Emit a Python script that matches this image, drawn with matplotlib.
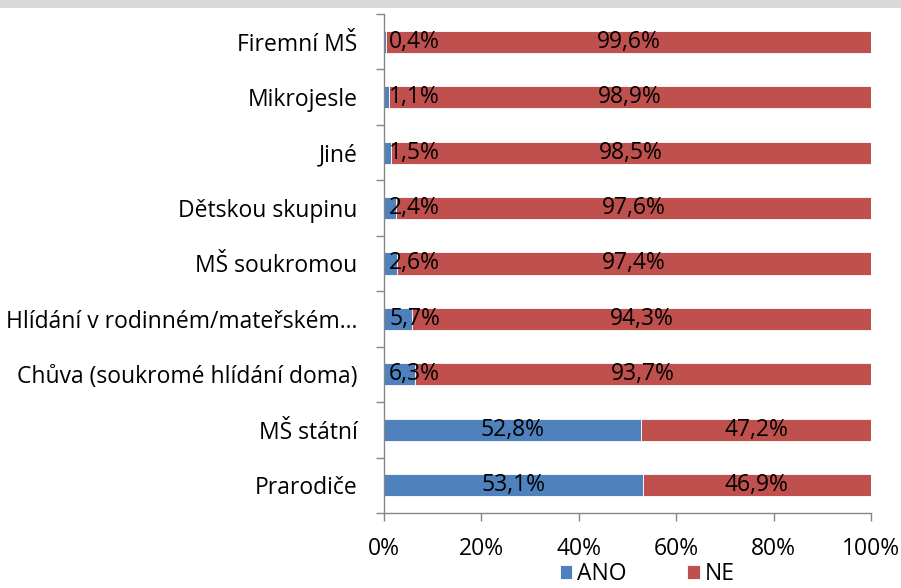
import matplotlib
matplotlib.use("Agg")
import matplotlib.pyplot as plt
from matplotlib.patches import Rectangle
import numpy as np

categories = ["Firemní MŠ", "Mikrojesle", "Jiné", "Dětskou skupinu", "MŠ soukromou",
              "Hlídání v rodinném/mateřském…", "Chůva (soukromé hlídání doma)",
              "MŠ státní", "Prarodiče"]
ano = [0.4, 1.1, 1.5, 2.4, 2.6, 5.7, 6.3, 52.8, 53.1]
ne = [99.6, 98.9, 98.5, 97.6, 97.4, 94.3, 93.7, 47.2, 46.9]
xticks = [0, 20, 40, 60, 80, 100]
series_names = ["ANO", "NE"]

plt.rcParams['font.family'] = ['Open Sans', 'DejaVu Sans']
BLUE = "#4F81BD"
RED = "#C0504D"
GREY = "#868686"

fig = plt.figure(figsize=(9.01, 5.88), dpi=100)
# top grey band
fig.patches.append(Rectangle((0, 1 - 8/588), 1, 8/588, transform=fig.transFigure,
                             facecolor="#D9D9D9", edgecolor="none", zorder=0))
ax = fig.add_axes([384/901, 1 - 513/588, (871-384)/901, (513-14)/588])

n = len(categories)
y = np.arange(n)[::-1]
h = 0.4
ax.barh(y, ano, height=h, color=BLUE, edgecolor="white", linewidth=0.6, label=series_names[0])
ax.barh(y, ne, left=ano, height=h, color=RED, edgecolor="white", linewidth=0.6, label=series_names[1])

fs = 16.5
for yi, a, b in zip(y, ano, ne):
    ax.text(max(a/2, 6.3), yi, f"{a:.1f}%".replace(".", ","), ha="center", va="center",
            fontsize=fs, color="black")
    ax.text(a + b/2, yi, f"{b:.1f}%".replace(".", ","), ha="center", va="center",
            fontsize=fs, color="black")

ax.set_xlim(0, 100)
ax.set_ylim(-0.5, n - 0.5)
ax.set_xticks(xticks)
ax.set_xticklabels([f"{t}%" for t in xticks], fontsize=fs)
ax.set_yticks(y)
ax.set_yticklabels(categories, fontsize=fs)
ax.set_yticks(np.arange(n + 1) - 0.5, minor=True)
ax.tick_params(axis="y", which="major", length=0, pad=19)
ax.tick_params(axis="y", which="minor", length=6, color=GREY, width=1)
ax.tick_params(axis="x", which="major", length=6, color=GREY, width=1, pad=11)
for s in ["top", "right"]:
    ax.spines[s].set_visible(False)
for s in ["left", "bottom"]:
    ax.spines[s].set_color(GREY)
    ax.spines[s].set_linewidth(1)

leg = fig.legend(loc="center", bbox_to_anchor=(647/901, 1 - 574/588), ncol=2, frameon=False,
                 fontsize=fs, handlelength=0.55, handleheight=0.55, columnspacing=2.65,
                 handletextpad=0.2, borderpad=0)

fig.savefig("out.png", dpi=100)
